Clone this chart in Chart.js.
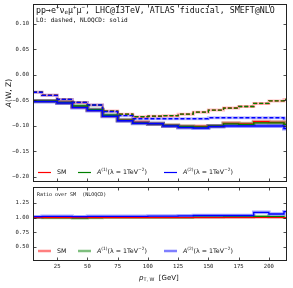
<!DOCTYPE html>
<html>
<head>
<meta charset="utf-8">
<script src="https://cdn.jsdelivr.net/npm/chart.js@4.4.0/dist/chart.umd.min.js"></script>
<style>
    html, body { margin: 0; padding: 0; background: #fff; }
    #wrap { position: relative; width: 293px; height: 288px; }
    .box { position: absolute; left: 0; width: 293px; }
</style>
</head>
<body>
<div id="wrap">
    <div class="box" style="top:0;height:185px"><canvas id="mainChart"></canvas></div>
    <div class="box" style="top:185px;height:103px"><canvas id="ratioChart"></canvas></div>
</div>
<script>
// bin edges in pT,W [GeV]
const binEdges = [0, 12.5, 25, 37.5, 50, 62.5, 75, 87.5, 100, 112.5, 125, 137.5, 150, 162.5, 175, 187.5, 200, 212.5, 225];

// LO (dashed)
const loSM  = [-0.034, -0.040, -0.048, -0.054, -0.059, -0.071, -0.077, -0.082, -0.081, -0.080, -0.077, -0.073, -0.069, -0.065, -0.062, -0.056, -0.051, -0.048];
const loA1  = [-0.034, -0.040, -0.048, -0.054, -0.059, -0.071, -0.077, -0.082, -0.081, -0.080, -0.077, -0.073, -0.069, -0.065, -0.062, -0.056, -0.051, -0.048];
const loA2  = [-0.034, -0.040, -0.048, -0.054, -0.059, -0.072, -0.080, -0.086, -0.086, -0.086, -0.086, -0.086, -0.084, -0.084, -0.084, -0.084, -0.084, -0.086];

// NLOQCD (solid)
const nloSM = [-0.051, -0.051, -0.054, -0.063, -0.069, -0.080, -0.089, -0.093, -0.096, -0.099, -0.101, -0.101, -0.100, -0.095, -0.096, -0.092, -0.093, -0.097];
const nloA1 = [-0.051, -0.051, -0.054, -0.061, -0.068, -0.079, -0.089, -0.094, -0.096, -0.099, -0.101, -0.102, -0.100, -0.096, -0.097, -0.094, -0.094, -0.097];
const nloA2 = [-0.052, -0.052, -0.055, -0.064, -0.070, -0.081, -0.090, -0.095, -0.096, -0.100, -0.103, -0.104, -0.101, -0.100, -0.100, -0.100, -0.100, -0.105];

// ratio over SM (NLOQCD)
const ratioSM = [1, 1, 1, 1, 1, 1, 1, 1, 1, 1, 1, 1, 1, 1, 1, 1, 1, 1];
const ratioA1 = [1.0, 0.995, 0.995, 0.99, 0.995, 1.0, 1.0, 1.0, 1.0, 1.0, 1.0, 1.005, 1.005, 1.01, 1.01, 1.02, 1.015, 1.0];
const ratioA2 = [1.015, 1.02, 1.02, 1.015, 1.02, 1.02, 1.02, 1.02, 1.025, 1.025, 1.03, 1.035, 1.035, 1.035, 1.035, 1.088, 1.06, 1.1];

const xTicks = [25, 50, 75, 100, 125, 150, 175, 200];
const yTicksMain = [-0.20, -0.15, -0.10, -0.05, 0.00, 0.05, 0.10];
const yTicksRatio = [0.50, 0.75, 1.00, 1.25];

const RED = '#ff0000', GREEN = '#008000', BLUE = '#0000ff';
const MONO = 'DejaVu Sans Mono';
const SANS = 'DejaVu Sans';

function steps(vals) {
    let pts = vals.map((v, i) => ({x: binEdges[i], y: v}));
    pts.push({x: binEdges[vals.length], y: vals[vals.length - 1]});
    return pts;
}

function stepSet(vals, color, width, dash, order) {
    return {
        data: steps(vals),
        borderColor: color,
        borderWidth: width,
        borderDash: dash || [],
        stepped: true,
        pointRadius: 0,
        fill: false,
        clip: 0,
        order: order
    };
}

function fmt(v) {
    return v.toFixed(2).replace('-', '\u2212');
}

function drawRich(ctx, segs, x, y, size, family) {
    let cx = x;
    segs.forEach(function (s) {
        let small = s.sup || s.sub;
        let sz = small ? size * 0.7 : size;
        ctx.font = (s.it ? 'italic ' : '') + sz + 'px ' + family;
        let dy = s.sup ? -size * 0.35 : (s.sub ? size * 0.25 : 0);
        ctx.fillText(s.t, cx, y + dy);
        cx += ctx.measureText(s.t).width;
    });
}

const a1Label = [{t: 'A', it: true}, {t: '(1)', sup: true}, {t: '(\u03bb = 1TeV'}, {t: '\u22122', sup: true}, {t: ')'}];
const a2Label = [{t: 'A', it: true}, {t: '(2)', sup: true}, {t: '(\u03bb = 1TeV'}, {t: '\u22122', sup: true}, {t: ')'}];

// frame, inward ticks, texts and legend
const framePlugin = {
    id: 'frame',
    afterDraw(chart, args, opts) {
        const ctx = chart.ctx, a = chart.chartArea;
        const sx = chart.scales.x, sy = chart.scales.y;
        ctx.save();
        ctx.strokeStyle = '#222';
        ctx.lineWidth = 1;
        let l = Math.round(a.left) + 0.5, r = Math.round(a.right) - 0.5;
        let t = Math.round(a.top) + 0.5, b = Math.round(a.bottom) - 0.5;
        ctx.strokeRect(l, t, r - l, b - t);
        ctx.lineWidth = 0.8;
        ctx.beginPath();
        xTicks.forEach(function (v) {
            let px = Math.round(sx.getPixelForValue(v)) + 0.5;
            ctx.moveTo(px, b); ctx.lineTo(px, b - 3);
            ctx.moveTo(px, t); ctx.lineTo(px, t + 3);
        });
        opts.yTicks.forEach(function (v) {
            let py = Math.round(sy.getPixelForValue(v)) + 0.5;
            ctx.moveTo(l, py); ctx.lineTo(l + 3, py);
            ctx.moveTo(r, py); ctx.lineTo(r - 3, py);
        });
        ctx.stroke();

        ctx.fillStyle = '#111';
        ctx.textBaseline = 'middle';
        (opts.texts || []).forEach(function (tx) {
            drawRich(ctx, tx.segs, tx.x, tx.y, tx.size, tx.family);
        });

        (opts.legend || []).forEach(function (it) {
            ctx.strokeStyle = it.color;
            ctx.lineWidth = it.width;
            ctx.beginPath();
            ctx.moveTo(it.x, it.y); ctx.lineTo(it.x + 13, it.y);
            ctx.stroke();
            ctx.fillStyle = '#111';
            drawRich(ctx, it.segs, it.x + 19, it.y, 6.3, SANS);
        });

        if (opts.yTitle) {
            ctx.save();
            ctx.translate(opts.yTitle.x, opts.yTitle.y);
            ctx.rotate(-Math.PI / 2);
            ctx.font = '7.5px ' + SANS;
            let w = ctx.measureText(opts.yTitle.text).width;
            drawRich(ctx, [{t: 'A', it: true}, {t: '(W, Z)'}], -w / 2, 0, 7.5, SANS);
            ctx.restore();
        }
        if (opts.xTitle) {
            drawRich(ctx, [{t: 'p', it: true}, {t: 'T, W', sub: true}, {t: '  [GeV]'}], opts.xTitle.x, opts.xTitle.y, 7, SANS);
        }
        ctx.restore();
    }
};

function yAxis(min, max, list) {
    return {
        min: min,
        max: max,
        afterBuildTicks: function (ax) { ax.ticks = list.map(v => ({value: v})); },
        afterFit: function (ax) {
            ax.width = 33;
            ax.paddingTop = 0;
            ax.paddingBottom = 0;
        },
        grid: {display: false, drawTicks: false},
        border: {display: false},
        ticks: {
            font: {family: MONO, size: 5.6},
            color: '#222',
            padding: 4,
            callback: v => fmt(v)
        }
    };
}

new Chart(document.getElementById('mainChart'), {
    type: 'line',
    data: {
        datasets: [
            // uncertainty bands
            stepSet(loSM, 'rgba(255,0,0,0.25)', 3, null, 20),
            stepSet(loA2, 'rgba(60,60,255,0.35)', 3, null, 19),
            stepSet(nloSM, 'rgba(255,0,0,0.35)', 4, null, 18),
            stepSet(nloA1, 'rgba(0,128,0,0.35)', 4, null, 17),
            stepSet(nloA2, 'rgba(0,0,255,0.4)', 4, null, 16),
            // LO dashed
            stepSet(loSM, RED, 1.4, [4, 2], 9),
            stepSet(loA1, GREEN, 1.3, [4, 2], 8),
            stepSet(loA2, BLUE, 1.3, [4, 2], 7),
            // NLOQCD solid
            stepSet(nloSM, RED, 1.4, null, 3),
            stepSet(nloA1, GREEN, 1.4, null, 2),
            stepSet(nloA2, BLUE, 1.5, null, 1)
        ]
    },
    options: {
        responsive: true,
        maintainAspectRatio: false,
        animation: false,
        layout: {padding: {left: 0, right: 6, top: 4, bottom: 3}},
        plugins: {
            legend: {display: false},
            tooltip: {enabled: false},
            frame: {
                yTicks: yTicksMain,
                yTitle: {x: 9, y: 93, text: 'A(W, Z)'},
                texts: [
                    {x: 36, y: 10.5, size: 8.3, family: MONO, segs: [
                        {t: 'pp\u2192e'}, {t: '+', sup: true}, {t: '\u03bd'}, {t: 'e', sub: true},
                        {t: '\u03bc'}, {t: '+', sup: true}, {t: '\u03bc'}, {t: '\u2212', sup: true},
                        {t: ', LHC@13TeV, ATLAS fiducial, SMEFT@NLO'}
                    ]},
                    {x: 36, y: 20, size: 6.1, family: MONO, segs: [{t: 'LO: dashed, NLOQCD: solid'}]}
                ],
                legend: [
                    {x: 38, y: 172.5, color: RED, width: 1.2, segs: [{t: 'SM'}]},
                    {x: 78, y: 172.5, color: GREEN, width: 1.2, segs: a1Label},
                    {x: 164, y: 172.5, color: BLUE, width: 1.2, segs: a2Label}
                ]
            }
        },
        scales: {
            x: {type: 'linear', min: 5, max: 215, display: false},
            y: yAxis(-0.21, 0.139, yTicksMain)
        }
    },
    plugins: [framePlugin]
});

new Chart(document.getElementById('ratioChart'), {
    type: 'line',
    data: {
        datasets: [
            stepSet(ratioA1, 'rgba(0,128,0,0.3)', 3, null, 12),
            stepSet(ratioA2, 'rgba(0,0,255,0.35)', 3.5, null, 11),
            stepSet(ratioA1, GREEN, 1.3, null, 3),
            stepSet(ratioSM, RED, 1.3, null, 2),
            stepSet(ratioA2, BLUE, 1.3, null, 1)
        ]
    },
    options: {
        responsive: true,
        maintainAspectRatio: false,
        animation: false,
        layout: {padding: {left: 0, right: 6, top: 2, bottom: 0}},
        plugins: {
            legend: {display: false},
            tooltip: {enabled: false},
            frame: {
                yTicks: yTicksRatio,
                xTitle: {x: 139, y: 93},
                texts: [
                    {x: 37, y: 10, size: 5, family: MONO, segs: [{t: 'Ratio over SM  (NLOQCD)'}]}
                ],
                legend: [
                    {x: 38, y: 66, color: '#ff7f7f', width: 2.5, segs: [{t: 'SM'}]},
                    {x: 78, y: 66, color: '#7fbf7f', width: 2.5, segs: a1Label},
                    {x: 164, y: 66, color: '#7f7fff', width: 2.5, segs: a2Label}
                ]
            }
        },
        scales: {
            x: {
                type: 'linear',
                min: 5,
                max: 215,
                afterBuildTicks: function (ax) { ax.ticks = xTicks.map(v => ({value: v})); },
                afterFit: function (ax) { ax.height = 27; },
                grid: {display: false, drawTicks: false},
                border: {display: false},
                ticks: {font: {family: MONO, size: 5.6}, color: '#222', padding: 2, maxRotation: 0}
            },
            y: yAxis(0.26, 1.52, yTicksRatio)
        }
    },
    plugins: [framePlugin]
});
</script>
</body>
</html>
